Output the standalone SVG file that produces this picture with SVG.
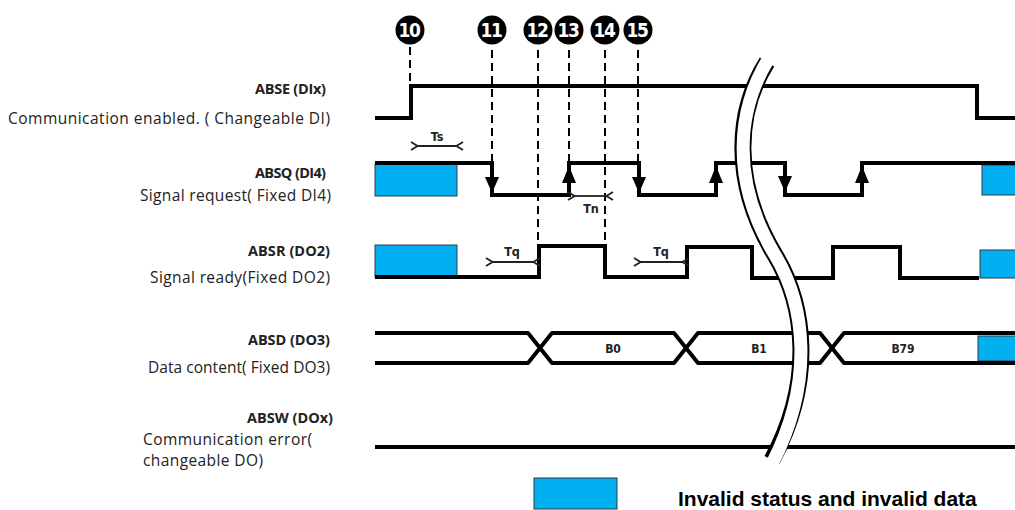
<svg xmlns="http://www.w3.org/2000/svg" width="1015" height="510" viewBox="0 0 1015 510">
<defs>
<style>
.sig{fill:none;stroke:#000;stroke-width:4;stroke-linejoin:miter}
.bus{fill:none;stroke:#000;stroke-width:4;stroke-linejoin:round}
.dash{fill:none;stroke:#000;stroke-width:2;stroke-dasharray:8 5}
.inv{fill:#00B0F0;stroke:#2a3a44;stroke-width:1}
.lbl{font-family:"Open Sans","Liberation Sans",sans-serif;font-size:15.5px;fill:#222}
.name{font-family:"Open Sans","Liberation Sans",sans-serif;font-size:14.5px;font-weight:bold;fill:#222}
.num{font-family:"DejaVu Sans Condensed","DejaVu Sans",sans-serif;font-size:19px;font-weight:bold;fill:#fff;text-anchor:middle;letter-spacing:-1.5px}
.bl{font-family:"DejaVu Sans Condensed","DejaVu Sans",sans-serif;font-size:12px;font-weight:bold;fill:#222;text-anchor:middle}
.tl{font-family:"DejaVu Sans Condensed","DejaVu Sans",sans-serif;font-size:12.5px;font-weight:bold;fill:#222;text-anchor:middle}
.tarr{fill:none;stroke:#222;stroke-width:1.8}
.ah{fill:#000}
</style>
<marker id="oa" viewBox="0 0 10 10" refX="1" refY="5" markerWidth="10" markerHeight="10" markerUnits="userSpaceOnUse" orient="auto-start-reverse">
<path d="M8,1 L1.5,5 L8,9" fill="none" stroke="#222" stroke-width="1.8"/>
</marker>
</defs>
<rect width="1015" height="510" fill="#fff"/>

<g id="markers">
<g id="m10"><circle cx="410" cy="30" r="14.5" fill="#000"/><text class="num" x="409" y="37">10</text></g>
<g id="m11"><circle cx="492" cy="30" r="14.5" fill="#000"/><text class="num" x="491" y="37">11</text></g>
<g id="m12"><circle cx="538" cy="30" r="14.5" fill="#000"/><text class="num" x="537" y="37">12</text></g>
<g id="m13"><circle cx="569" cy="30" r="14.5" fill="#000"/><text class="num" x="568" y="37">13</text></g>
<g id="m14"><circle cx="605" cy="30" r="14.5" fill="#000"/><text class="num" x="604" y="37">14</text></g>
<g id="m15"><circle cx="638" cy="30" r="14.5" fill="#000"/><text class="num" x="637" y="37">15</text></g>
</g>

<g id="connectors">
<line class="dash" x1="410" y1="47" x2="410" y2="86"/>
<line class="dash" x1="492" y1="50" x2="492" y2="163"/>
<line class="dash" x1="538" y1="50" x2="538" y2="246"/>
<line class="dash" x1="569" y1="50" x2="569" y2="163"/>
<line class="dash" x1="605" y1="50" x2="605" y2="246"/>
<line class="dash" x1="638" y1="50" x2="638" y2="163"/>
</g>

<g id="abse">
<text class="name" x="326" y="94" text-anchor="end" textLength="71">ABSE (DIx)</text>
<text class="lbl" x="330" y="124" text-anchor="end" textLength="322">Communication enabled. ( Changeable DI)</text>
<path class="sig" d="M375,118 H411 V86 H977 V118 H1015"/>
</g>

<g id="absq">
<text class="name" x="326" y="178" text-anchor="end" textLength="71">ABSQ (DI4)</text>
<text class="lbl" x="331" y="201" text-anchor="end" textLength="191">Signal request( Fixed DI4)</text>
<rect class="inv" x="375" y="164" width="82" height="32"/>
<rect class="inv" x="982" y="165" width="35" height="30"/>
<path class="sig" d="M375,163 H492 V195 H569 V163 H639 V195 H716 V163 H785 V195 H862 V163 H1015"/>
<polygon class="ah" points="485,177 499,177 492,193"/>
<polygon class="ah" points="562,183 576,183 569,166"/>
<polygon class="ah" points="632,177 646,177 639,193"/>
<polygon class="ah" points="709,183 723,183 716,166"/>
<polygon class="ah" points="778,176 792,176 785,192"/>
<polygon class="ah" points="855,183 869,183 862,166"/>
<line class="tarr" x1="418" y1="146" x2="456" y2="146" marker-start="url(#oa)" marker-end="url(#oa)"/>
<text class="tl" x="437" y="141">Ts</text>
<line class="tarr" x1="575" y1="196" x2="606" y2="196" marker-start="url(#oa)" marker-end="url(#oa)"/>
<text class="tl" x="591" y="213">Tn</text>
</g>

<g id="absr">
<text class="name" x="330" y="256" text-anchor="end" textLength="82">ABSR (DO2)</text>
<text class="lbl" x="330" y="283" text-anchor="end" textLength="180">Signal ready(Fixed DO2)</text>
<rect class="inv" x="375" y="245" width="82" height="32"/>
<rect class="inv" x="980" y="250" width="37" height="28"/>
<path class="sig" d="M375,277 H539 V246 H605 V277 H687 V247 H752 V278 H833 V247 H900 V278 H979"/>
<line class="tarr" x1="493" y1="262" x2="533" y2="262" marker-start="url(#oa)" marker-end="url(#oa)"/>
<text class="tl" x="512" y="256">Tq</text>
<line class="tarr" x1="641" y1="262" x2="682" y2="262" marker-start="url(#oa)" marker-end="url(#oa)"/>
<text class="tl" x="661" y="256">Tq</text>
</g>

<g id="absd">
<text class="name" x="330" y="345" text-anchor="end" textLength="82">ABSD (DO3)</text>
<text class="lbl" x="330" y="373" text-anchor="end" textLength="182">Data content( Fixed DO3)</text>
<rect class="inv" x="978" y="336" width="39" height="25"/>
<path class="bus" d="M375,333 H528 L540,348 L528,363 H375"/>
<path class="bus" d="M540,348 L552,333 H674 L686,348 L674,363 H552 Z"/>
<path class="bus" d="M686,348 L698,333 H820 L832,348 L820,363 H698 Z"/>
<path class="bus" d="M1015,333 H844 L832,348 L844,363 H1015"/>
<text class="bl" x="613" y="353">B0</text>
<text class="bl" x="759" y="353">B1</text>
<text class="bl" x="903" y="353">B79</text>
</g>

<g id="absw">
<text class="name" x="333" y="423" text-anchor="end" textLength="86">ABSW (DOx)</text>
<text class="lbl" x="143" y="445" textLength="169">Communication error(</text>
<text class="lbl" x="143" y="466" textLength="120">changeable DO)</text>
<path class="sig" d="M375,447 H1015"/>
</g>

<g id="break">
<path d="M767,62 C737,110 730,180 775,255 C805,305 815,380 772,460" fill="none" stroke="#000" stroke-width="17"/>
<path d="M769,58 C737,110 730,180 775,255 C805,305 815,380 772,464" fill="none" stroke="#fff" stroke-width="13"/>
</g>

<g id="legend">
<rect class="inv" x="534" y="478" width="83" height="31"/>
<text x="678" y="506" font-family="'Liberation Sans',Arial,sans-serif" font-size="21" font-weight="bold" fill="#000">Invalid status and invalid data</text>
</g>
</svg>
